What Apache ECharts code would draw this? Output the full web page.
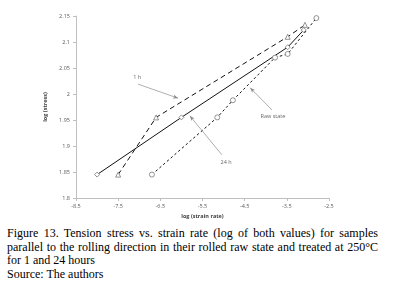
<!DOCTYPE html>
<html>
<head>
<meta charset="utf-8">
<script src="https://cdn.jsdelivr.net/npm/echarts@6/dist/echarts.min.js"></script>
<style>
  body { margin: 0; background: #fff; }
  #wrap { position: relative; width: 393px; height: 288px; overflow: hidden; }
  #chart { position: absolute; left: 0; top: 0; width: 393px; height: 225px; }
  #caption {
    position: absolute; left: 7px; top: 227px; width: 371px;
    font-family: "Liberation Serif", "Times New Roman", serif;
    font-size: 12px; line-height: 13.7px; color: #000;
  }
  #caption .j { text-align: justify; text-align-last: justify; }
</style>
</head>
<body>
<div id="wrap">
  <div id="chart"></div>
  <div id="caption">
    <div class="j">Figure 13. Tension stress vs. strain rate (log of both values) for samples</div>
    <div class="j">parallel to the rolling direction in their rolled raw state and treated at 250°C</div>
    <div>for 1 and 24 hours</div>
    <div>Source: The authors</div>
  </div>
</div>
<script>
// x = log(strain rate), y = log(stress)
var rawX = [-8.0, -6.0, -3.48, -3.1];
var rawY = [1.845, 1.955, 2.09, 2.123];
var h1X = [-7.5, -6.6, -3.48, -3.07];
var h1Y = [1.845, 1.955, 2.11, 2.133];
var h24X = [-6.7, -5.15, -4.78, -3.78, -3.48, -2.8];
var h24Y = [1.845, 1.955, 1.988, 2.07, 2.077, 2.146];

var xTicks = [-8.5, -7.5, -6.5, -5.5, -4.5, -3.5, -2.5];
var yTicks = [1.8, 1.85, 1.9, 1.95, 2, 2.05, 2.1, 2.15];

// annotation arrows: [label, textX, textY, fromX, fromY, toX, toY]
var notes = [
  ["1 h", -7.05, 2.031, -7.03, 2.019, -6.08, 1.992],
  ["Raw state", -3.83, 1.956, -3.85, 1.969, -4.37, 2.012],
  ["24 h", -4.94, 1.869, -5.04, 1.883, -5.80, 1.958]
];

function pairs(xs, ys) {
  return xs.map(function (x, i) { return [x, ys[i]]; });
}

var chart = echarts.init(document.getElementById("chart"));
var axisFont = { fontSize: 5.5, color: "#595959", fontFamily: "Open Sans" };
var markerStyle = { color: "#fff", borderColor: "#777", borderWidth: 0.8 };

chart.setOption({
  animation: false,
  grid: { left: 76, right: 64, top: 16, bottom: 27 },
  xAxis: {
    type: "value",
    min: -8.5,
    max: -2.5,
    name: "log (strain rate)",
    nameLocation: "middle",
    nameGap: 15,
    nameTextStyle: { fontSize: 5.5, fontWeight: "bold", color: "#404040", fontFamily: "Open Sans" },
    axisLine: { show: true, lineStyle: { color: "#bfbfbf", width: 1 } },
    axisTick: { show: true, length: 3, customValues: xTicks, lineStyle: { color: "#bfbfbf" } },
    axisLabel: Object.assign({ customValues: xTicks, margin: 5 }, axisFont),
    splitLine: { show: false }
  },
  yAxis: {
    type: "value",
    min: 1.8,
    max: 2.15,
    name: "log (stress)",
    nameLocation: "middle",
    nameGap: 21,
    nameTextStyle: { fontSize: 5.5, fontWeight: "bold", color: "#404040", fontFamily: "Open Sans" },
    axisLine: { show: true, lineStyle: { color: "#bfbfbf", width: 1 } },
    axisTick: { show: true, length: 3, customValues: yTicks, lineStyle: { color: "#bfbfbf" } },
    axisLabel: Object.assign({ customValues: yTicks, margin: 6 }, axisFont),
    splitLine: { show: false }
  },
  series: [
    {
      name: "Raw state",
      type: "line",
      data: pairs(rawX, rawY),
      symbol: "diamond",
      symbolSize: 5,
      itemStyle: markerStyle,
      lineStyle: { color: "#111", width: 1 },
      z: 3
    },
    {
      name: "1 h",
      type: "line",
      data: pairs(h1X, h1Y),
      symbol: "triangle",
      symbolSize: 5,
      itemStyle: markerStyle,
      lineStyle: { color: "#111", width: 1, type: [5, 3.5] },
      z: 3
    },
    {
      name: "24 h",
      type: "line",
      data: pairs(h24X, h24Y),
      symbol: "circle",
      symbolSize: 5,
      itemStyle: markerStyle,
      lineStyle: { color: "#111", width: 1, type: [2.5, 2.5] },
      z: 3
    },
    {
      name: "notes",
      type: "scatter",
      symbolSize: 0,
      silent: true,
      data: notes.map(function (n) { return { value: [n[1], n[2]], label: { formatter: n[0] } }; }),
      label: {
        show: true,
        position: "inside",
        fontSize: 5.5,
        color: "#404040",
        fontFamily: "Open Sans"
      },
      markLine: {
        silent: true,
        symbol: ["none", "arrow"],
        symbolSize: [3, 5],
        label: { show: false },
        lineStyle: { color: "#8c8c8c", width: 0.7, type: "solid" },
        data: notes.map(function (n) {
          return [{ coord: [n[3], n[4]] }, { coord: [n[5], n[6]] }];
        })
      }
    }
  ]
});
</script>
</body>
</html>
